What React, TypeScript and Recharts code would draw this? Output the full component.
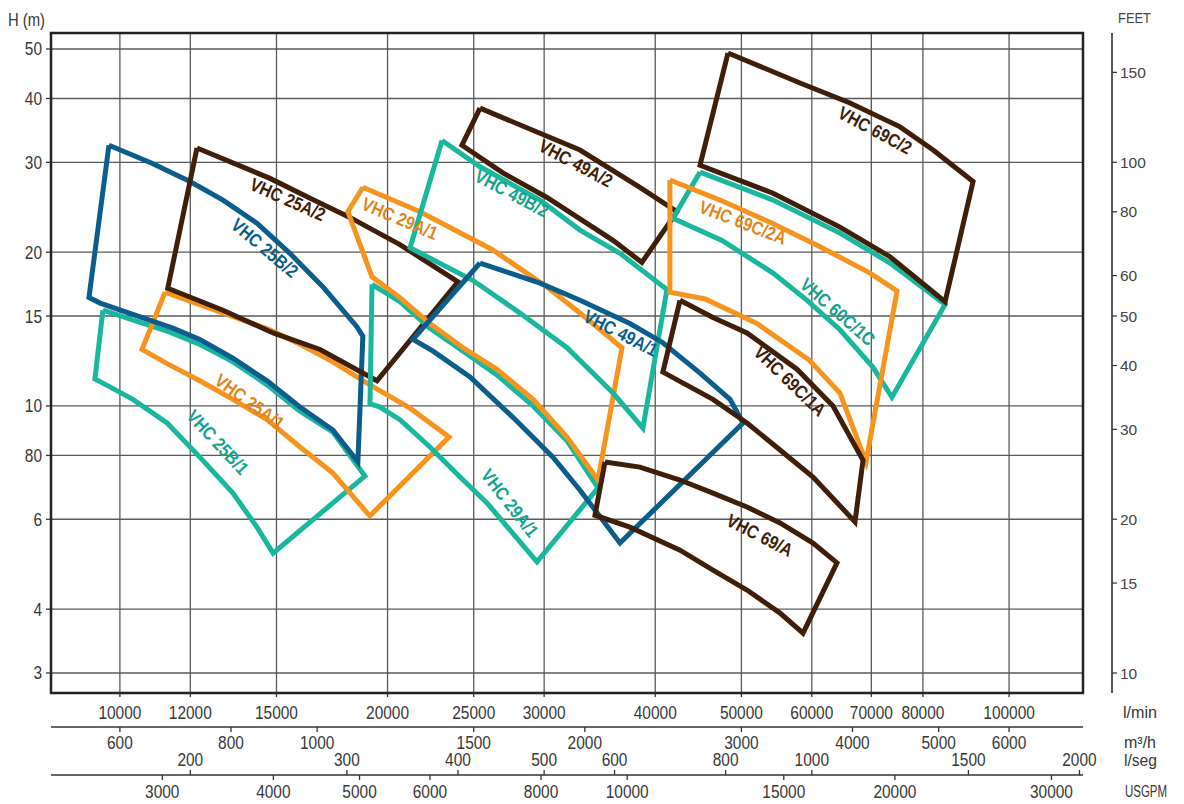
import { ComposedChart, Line, Scatter, XAxis, YAxis, CartesianGrid, ReferenceArea } from "recharts";

type Pt = [number, number];

// every outline: [flow l/min, head m], clockwise from the top-left corner
const vhc25B1: Pt[] = [[9570, 15.4], [11380, 13.95], [12300, 13.2], [13400, 12.2], [14640, 11.0], [15940, 9.77], [17360, 8.89], [18860, 7.29], [14870, 5.15], [14260, 5.79], [13400, 6.75], [12300, 7.94], [11300, 9.26], [10340, 10.3], [9744, 10.9], [9373, 11.3], [9570, 15.4]];
const vhc25A1: Pt[] = [[11240, 16.7], [14750, 14.1], [15940, 13.2], [17360, 12.2], [19100, 11.0], [21200, 9.9], [23450, 8.69], [19100, 6.09], [17360, 7.39], [15940, 8.31], [14640, 9.4], [13400, 10.3], [12300, 11.2], [11300, 12.1], [10590, 12.9], [11240, 16.7]];
const vhc25B2: Pt[] = [[9720, 32.4], [10850, 29.9], [11990, 27.5], [13060, 25.3], [14260, 22.8], [15530, 19.9], [16920, 17.1], [18470, 14.3], [18760, 13.7], [18520, 7.77], [17360, 8.97], [15940, 9.95], [14640, 11.2], [13400, 12.4], [12300, 13.5], [11470, 14.2], [9500, 15.9], [9230, 16.3], [9720, 32.4]];
const vhc25A2: Pt[] = [[12210, 32.0], [14750, 27.9], [16300, 25.6], [18140, 23.4], [20650, 20.7], [24000, 17.5], [19460, 11.2], [16790, 12.9], [14870, 13.9], [13060, 15.4], [11320, 17.0], [12210, 32.0]];
const vhc29A1t: Pt[] = [[19210, 17.3], [20650, 16.0], [22320, 14.2], [24320, 12.8], [26550, 11.5], [29150, 10.0], [31830, 8.55], [34490, 6.91], [29450, 4.95], [25870, 6.46], [24130, 7.26], [22320, 8.31], [20650, 9.4], [19610, 9.95], [19110, 10.1], [19210, 17.3]];
const vhc29A1o: Pt[] = [[18760, 26.8], [21750, 24.0], [26270, 20.2], [30220, 17.1], [32920, 15.2], [36700, 13.0], [34490, 7.16], [31830, 8.69], [29150, 10.3], [26550, 11.8], [24320, 13.0], [22320, 14.5], [20650, 16.3], [19210, 17.9], [18050, 24.0], [18760, 26.8]];
const vhc49B2: Pt[] = [[23030, 33.1], [25410, 29.4], [29680, 25.3], [32920, 22.1], [36510, 19.9], [41230, 16.9], [38740, 9.05], [35860, 10.6], [31830, 13.0], [28180, 15.2], [24960, 17.6], [21200, 20.4], [23030, 33.1]];
const vhc49A2: Pt[] = [[25410, 38.3], [29680, 34.2], [32920, 31.7], [38440, 26.8], [42320, 24.0], [38640, 19.1], [35860, 21.1], [30220, 25.6], [26960, 28.6], [24250, 32.4], [25410, 38.3]];
const vhc49A1: Pt[] = [[25410, 19.05], [29680, 17.4], [32920, 16.1], [37460, 14.5], [40800, 13.3], [44920, 11.6], [48550, 10.3], [50210, 9.26], [36510, 5.39], [32920, 6.84], [30690, 7.94], [27670, 9.5], [24760, 11.4], [22500, 12.8], [21360, 13.5], [25410, 19.05]];
const vhc60C1C: Pt[] = [[44920, 28.7], [54270, 25.3], [64540, 21.8], [73470, 19.05], [84730, 15.8], [73830, 10.4], [70310, 11.9], [64540, 14.1], [59270, 16.1], [54270, 18.2], [47550, 21.1], [41880, 23.3], [44920, 28.7]];
const vhc69C2A: Pt[] = [[41550, 27.7], [47300, 25.3], [53860, 22.9], [61290, 20.5], [69780, 18.2], [74820, 16.8], [69040, 7.77], [64540, 10.6], [59600, 12.3], [52050, 14.5], [45520, 16.2], [41550, 16.7], [41550, 27.7]];
const vhc69C1A: Pt[] = [[42650, 16.1], [46450, 14.9], [50730, 13.9], [57740, 11.8], [63390, 10.0], [68510, 7.83], [67100, 5.93], [60190, 7.26], [55260, 8.20], [50730, 9.26], [46450, 10.3], [40800, 11.65], [42650, 16.1]];
const vhc69A: Pt[] = [[35120, 7.77], [38440, 7.59], [42650, 7.16], [46450, 6.75], [50730, 6.34], [55260, 5.90], [60190, 5.39], [64040, 4.93], [58650, 3.59], [55260, 3.93], [50730, 4.36], [46450, 4.77], [42650, 5.22], [37460, 5.79], [34220, 6.11], [35120, 7.77]];
const vhc69C2: Pt[] = [[48290, 49.1], [58200, 42.9], [66240, 39.2], [75400, 35.2], [82150, 31.7], [91100, 27.5], [84730, 16.0], [73470, 19.6], [64540, 22.4], [54270, 26.1], [44920, 29.6], [48290, 49.1]];

// label anchor: [text, flow l/min, head m, rotation deg]
const labels25: [string, number, number, number][] = [
  ["VHC 25A/2", 15450, 25.4, 24],
  ["VHC 25B/2", 14560, 20.4, 40],
  ["VHC 25A/1", 14000, 10.2, 36],
  ["VHC 25B/1", 12890, 8.5, 47],
];
const labels29_49: [string, number, number, number][] = [
  ["VHC 29A/1", 20650, 23.3, 23],
  ["VHC 29A/1", 27460, 6.46, 52],
  ["VHC 49B/2", 27600, 26.1, 28],
  ["VHC 49A/2", 32580, 29.9, 28],
  ["VHC 49A/1", 36600, 13.9, 27],
];
const labels69: [string, number, number, number][] = [
  ["VHC 69C/2", 70700, 34.7, 28],
  ["VHC 69C/2A", 50210, 22.9, 21],
  ["VHC 60C/1C", 64200, 15.3, 41],
  ["VHC 69C/1A", 56720, 11.2, 44],
  ["VHC 69/A", 52460, 5.59, 27],
];

const lminTicks = [10000, 12000, 15000, 20000, 25000, 30000, 40000, 50000, 60000, 70000, 80000, 100000];
const m3hTicks = [600, 800, 1000, 1500, 2000, 3000, 4000, 5000, 6000];
const lsegTicks = [200, 300, 400, 500, 600, 800, 1000, 1500, 2000];
const usgpmTicks = [3000, 4000, 5000, 6000, 8000, 10000, 15000, 20000, 30000];
const headTicks = [3, 4, 6, 8, 10, 15, 20, 30, 40, 50];
const headTickLabels = ["3", "4", "6", "80", "10", "15", "20", "30", "40", "50"];
const feetTicks = [10, 15, 20, 30, 40, 50, 60, 80, 100, 150];

const Q_DOMAIN: [number, number] = [8366, 121100];
const H_DOMAIN: [number, number] = [2.741, 53.74];

const BROWN = "#3f1e0a";
const BLUE = "#0b5d8c";
const TEAL = "#19b79d";
const ORANGE = "#f7941e";
const ORANGE_TXT = "#e0861b";
const TEAL_TXT = "#12a48c";

const SANS = "'Liberation Sans', Arial, sans-serif";
const TXT = "#383838";

const toRows = (pts: Pt[]) => pts.map(([q, h]) => ({ q, h }));
// the secondary flow scales have no series of their own; a blank run over the range gives them a domain
const spanRows = Q_DOMAIN.map((q) => ({ q, h: 10 }));

const outlines = [
  { id: "25B1", pts: vhc25B1, color: TEAL },
  { id: "25A1", pts: vhc25A1, color: ORANGE },
  { id: "25B2", pts: vhc25B2, color: BLUE },
  { id: "25A2", pts: vhc25A2, color: BROWN },
  { id: "29A1t", pts: vhc29A1t, color: TEAL },
  { id: "29A1o", pts: vhc29A1o, color: ORANGE },
  { id: "49B2", pts: vhc49B2, color: TEAL },
  { id: "49A2", pts: vhc49A2, color: BROWN },
  { id: "49A1", pts: vhc49A1, color: BLUE },
  { id: "60C1C", pts: vhc60C1C, color: TEAL },
  { id: "69C2A", pts: vhc69C2A, color: ORANGE },
  { id: "69C1A", pts: vhc69C1A, color: BROWN },
  { id: "69A", pts: vhc69A, color: BROWN },
  { id: "69C2", pts: vhc69C2, color: BROWN },
];

const labelColor: Record<string, string> = {
  "VHC 25A/2": BROWN, "VHC 25B/2": BLUE, "VHC 25A/1": ORANGE_TXT, "VHC 25B/1": TEAL_TXT,
  "VHC 49B/2": TEAL_TXT, "VHC 49A/2": BROWN, "VHC 49A/1": BLUE,
  "VHC 69C/2": BROWN, "VHC 69C/2A": ORANGE_TXT, "VHC 60C/1C": TEAL_TXT, "VHC 69C/1A": BROWN, "VHC 69/A": BROWN,
};

const labelRows = [...labels25, ...labels29_49, ...labels69].map(([name, q, h, angle], i) => ({
  name, q, h, angle,
  color: name === "VHC 29A/1" ? (i === 4 ? ORANGE_TXT : TEAL_TXT) : labelColor[name],
}));

// condensed look: Liberation Sans squeezed horizontally
function NText(props: { x: number; y: number; anchor?: "start" | "middle" | "end"; size?: number; sx?: number; fill?: string; bold?: boolean; angle?: number; dy?: string; children: any }) {
  const { x, y, anchor = "middle", size = 18, sx = 0.86, fill = TXT, bold = false, angle = 0, dy, children } = props;
  return (
    <text transform={`translate(${x} ${y}) rotate(${angle}) scale(${sx} 1)`} x={0} y={0} dy={dy} textAnchor={anchor}
      fontFamily={SANS} fontSize={size} fontWeight={bold ? "bold" : "normal"} fill={fill}>
      {children}
    </text>
  );
}

function PumpLabel(p: any) {
  const { cx, cy, payload } = p;
  if (cx == null || cy == null) return null;
  return <NText x={cx} y={cy} angle={payload.angle} size={18.5} sx={0.86} bold fill={payload.color} dy="0.36em">{payload.name}</NText>;
}

const bottomTick = (fmt: (v: number) => string, dy: number) => (p: any) => (
  <NText x={p.x} y={p.y + dy}>{fmt(p.payload.value)}</NText>
);

const lsegTick = (p: any) => (
  <g>
    <NText x={p.x} y={p.y + 15.5}>{Math.round(p.payload.value / 60)}</NText>
    <line x1={p.x} x2={p.x} y1={p.y + 20} y2={p.y + 25} stroke="#333" strokeWidth={1.3} />
  </g>
);

const headTick = (p: any) => (
  <NText x={p.x} y={p.y} anchor="end" dy="0.36em">{headTickLabels[headTicks.indexOf(p.payload.value)] ?? String(p.payload.value)}</NText>
);

const feetTick = (p: any) => (
  <g>
    <line x1={p.x + 29} x2={p.x + 34} y1={p.y} y2={p.y} stroke="#333" strokeWidth={1.2} />
    <text x={p.x + 37} y={p.y} dy="0.36em" textAnchor="start" fill="#444" fontFamily={SANS} fontSize={15.5}>{Math.round(p.payload.value / 0.3)}</text>
  </g>
);

const unitLabel = (text: string, dx: number, dy: number, len: number) => (p: any) => {
  const vb = p.viewBox;
  if (!vb) return null;
  return (
    <text x={vb.x + vb.width + dx} y={vb.y + dy} fill={TXT} fontFamily={SANS} fontSize={16} textLength={len} lengthAdjust="spacingAndGlyphs">
      {text}
    </text>
  );
};

const feetDecor = (p: any) => {
  const vb = p.viewBox;
  if (!vb) return null;
  const lx = vb.x + 29;
  return (
    <g>
      <line x1={lx} x2={lx} y1={vb.y} y2={vb.y + vb.height} stroke="#222" strokeWidth={1.5} />
      <text x={lx + 6} y={23} fill="#444" fontFamily={SANS} fontSize={14} textLength={33} lengthAdjust="spacingAndGlyphs">FEET</text>
    </g>
  );
};

const headTitle = (p: any) => {
  const vb = p.viewBox;
  if (!vb) return null;
  return <text x={8} y={vb.y - 7} fill={TXT} fontFamily={SANS} fontSize={18} textLength={37} lengthAdjust="spacingAndGlyphs">H (m)</text>;
};

const axisStroke = { stroke: "#333", strokeWidth: 1.5 };
const tickStroke = { stroke: "#333", strokeWidth: 1.3 };

export default function App() {
  return (
    <div style={{ position: "absolute", left: 0, top: 0, width: 1184, height: 804, background: "#fff" }}>
      <ComposedChart width={1184} height={804} margin={{ top: 33, right: 0, bottom: 0, left: 0 }}>
        <XAxis xAxisId="a_lmin" dataKey="q" type="number" scale="log" domain={Q_DOMAIN} allowDataOverflow
          ticks={lminTicks} interval={0} height={34} axisLine={false} tickSize={4} tickMargin={0}
          tickLine={tickStroke} tick={bottomTick((v) => String(v), 21.5)}
          label={unitLabel("l/min", 40, 24.5, 34)} />
        <XAxis xAxisId="b_m3h" dataKey="q" type="number" scale="log" domain={Q_DOMAIN} allowDataOverflow
          ticks={m3hTicks.map((v) => (v * 1000) / 60)} interval={0} height={23}
          axisLine={axisStroke} tickSize={5} tickMargin={0} tickLine={tickStroke}
          tick={bottomTick((v) => String(Math.round((v * 60) / 1000)), 16.5)}
          label={unitLabel("m³/h", 41, 20.5, 32)} />
        <XAxis xAxisId="c_lseg" dataKey="q" type="number" scale="log" domain={Q_DOMAIN} allowDataOverflow
          ticks={lsegTicks.map((v) => v * 60)} interval={0} height={25} axisLine={false} tickLine={false}
          tickSize={0} tickMargin={0} tick={lsegTick} label={unitLabel("l/seg", 41, 16, 33)} />
        <XAxis xAxisId="d_usgpm" dataKey="q" type="number" scale="log" domain={Q_DOMAIN} allowDataOverflow
          ticks={usgpmTicks.map((v) => v * 3.72)} interval={0} height={29}
          axisLine={axisStroke} tickSize={5} tickMargin={0} tickLine={tickStroke}
          tick={bottomTick((v) => String(Math.round(v / 3.72 / 1000) * 1000), 17.5)}
          label={unitLabel("USGPM", 42, 22, 42)} />
        <YAxis yAxisId="m" type="number" scale="log" domain={H_DOMAIN} allowDataOverflow ticks={headTicks} interval={0}
          width={51} axisLine={false} tickSize={5} tickMargin={4} tickLine={tickStroke} tick={headTick} label={headTitle} />
        <YAxis yAxisId="ft" orientation="right" type="number" scale="log" domain={H_DOMAIN} allowDataOverflow
          ticks={feetTicks.map((f) => f * 0.3)} interval={0} width={101} axisLine={false} tickLine={false}
          tickSize={0} tickMargin={0} tick={feetTick} label={feetDecor} />
        <CartesianGrid xAxisId="a_lmin" yAxisId="m" stroke="#5a5a5a" strokeWidth={1.3} />
        {["b_m3h", "c_lseg", "d_usgpm"].map((id) => (
          <Line key={id} xAxisId={id} yAxisId="m" data={spanRows} dataKey="h" stroke="none" dot={false}
            activeDot={false} legendType="none" isAnimationActive={false} />
        ))}
        {outlines.map((o) => (
          <Line key={o.id} xAxisId="a_lmin" yAxisId="m" data={toRows(o.pts)} dataKey="h" type="linear"
            stroke={o.color} strokeWidth={5} strokeLinejoin="miter" dot={false} activeDot={false}
            isAnimationActive={false} />
        ))}
        <Scatter xAxisId="a_lmin" yAxisId="m" data={labelRows} dataKey="h" shape={PumpLabel} isAnimationActive={false} />
        <ReferenceArea xAxisId="a_lmin" yAxisId="m" x1={Q_DOMAIN[0]} x2={Q_DOMAIN[1]} y1={H_DOMAIN[0]} y2={H_DOMAIN[1]}
          fill="none" fillOpacity={0} stroke="#222" strokeWidth={2.5} ifOverflow="visible" />
      </ComposedChart>
    </div>
  );
}
